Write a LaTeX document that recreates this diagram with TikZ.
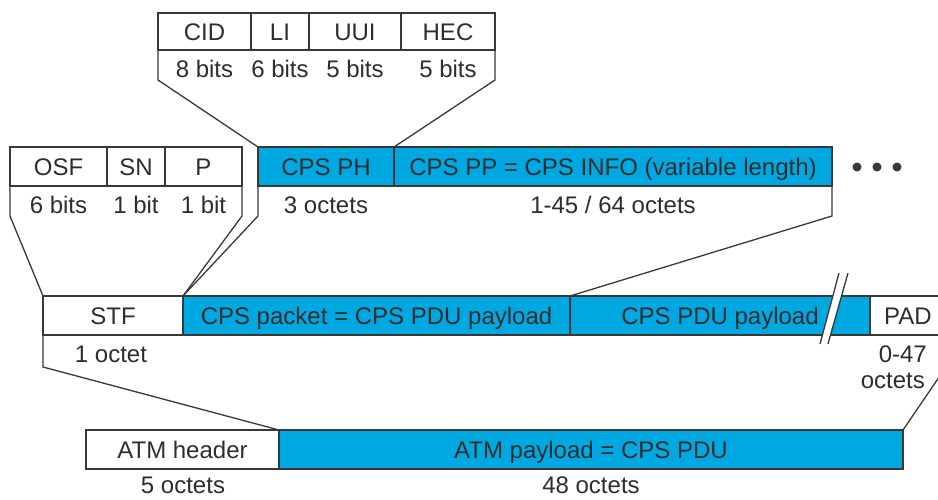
\documentclass[tikz,border=0pt]{standalone}
\usepackage{fontspec}
\setmainfont{Liberation Sans}
\definecolor{cpsblue}{RGB}{0,168,225}
\definecolor{ln}{RGB}{58,56,52}
\definecolor{tx}{RGB}{45,45,45}
\begin{document}
\begin{tikzpicture}[x=1pt,y=-1pt,
  cell/.style={draw=ln, line width=1.3pt, inner sep=0pt, outer sep=0pt,
    anchor=north west, minimum height=39pt, text=tx, text height=17.2pt, text depth=0pt,
    font=\fontsize{24}{28}\selectfont},
  bluecell/.style={cell, fill=cpsblue},
  lbl/.style={text=tx, inner sep=0pt, anchor=base, font=\fontsize{24}{28}\selectfont},
  conn/.style={draw=ln, line width=1.3pt, line join=miter},
  dotnode/.style={circle, fill=ln, inner sep=0pt, minimum size=9pt}]
\useasboundingbox (0,0) rectangle (938,499);
\clip (0,0) rectangle (938,499);
% row 1
\node[cell, minimum width=93pt, minimum height=37pt] (cid) at (158,13) {CID};
\node[cell, minimum width=58pt, minimum height=37pt] (li) at (251,13) {LI};
\node[cell, minimum width=92pt, minimum height=37pt] (uui) at (309,13) {UUI};
\node[cell, minimum width=94pt, minimum height=37pt] (hec) at (401,13) {HEC};
\node[lbl] (b1) at (204.5,77) {8 bits};
\node[lbl] (b2) at (280,77) {6 bits};
\node[lbl] (b3) at (355,77) {5 bits};
\node[lbl] (b4) at (448,77) {5 bits};
% row 2
\node[cell, minimum width=97pt] (osf) at (10,147) {OSF};
\node[cell, minimum width=58pt] (sn) at (107,147) {SN};
\node[cell, minimum width=77pt] (p) at (165,147) {P};
\node[bluecell, minimum width=136pt] (ph) at (258,147) {CPS PH};
\node[bluecell, minimum width=438pt] (pp) at (394,147) {CPS PP = CPS INFO (variable length)};
\node[lbl] (o1) at (58.5,213) {6 bits};
\node[lbl] (o2) at (136,213) {1 bit};
\node[lbl] (o3) at (203.5,213) {1 bit};
\node[lbl] (o4) at (326,213) {3 octets};
\node[lbl] (o5) at (613,213) {1-45 / 64 octets};
\node[dotnode] (d1) at (857,167) {};
\node[dotnode] (d2) at (877,167) {};
\node[dotnode] (d3) at (897,167) {};
% row 3
\node[cell, minimum width=140pt] (stf) at (43,296) {STF};
\node[bluecell, minimum width=387pt] (pkt) at (183,296) {CPS packet = CPS PDU payload};
\node[bluecell, minimum width=300pt] (pdu) at (570,296) {CPS PDU payload};
\node[cell, minimum width=76pt] (pad) at (870,296) {PAD};
\node[lbl] (s1) at (111,362) {1 octet};
\node[lbl, anchor=base east] (s2) at (927,362) {0-47};
\node[lbl, anchor=base east] (s3) at (925,388) {octets};
% break mark
\fill[white] (820,344) -- (839,273) -- (848,273) -- (828,344) -- cycle;
\draw[conn] (820,344) -- (839,273);
\draw[conn] (828,344) -- (848,273);
% row 4
\node[cell, minimum width=193pt] (atmh) at (86,430) {ATM header};
\node[bluecell, minimum width=624pt] (atmp) at (279,430) {ATM payload = CPS PDU};
\node[lbl] (a1) at (183,493) {5 octets};
\node[lbl] (a2) at (591,493) {48 octets};
% connectors
\draw[conn] (cid.south west) -- ++(0,30) -- (ph.north west);
\draw[conn] (hec.south east) -- ++(0,30) -- (pp.north west);
\draw[conn] (osf.south west) -- ++(0,30) -- (stf.north west);
\draw[conn] (p.south east) -- ++(0,30) -- (stf.north east);
\draw[conn] (ph.south west) -- ++(0,30) -- (pkt.north west);
\draw[conn] (pp.south east) -- ++(0,30) -- (pdu.north west);
\draw[conn] (stf.south west) -- ++(0,32) -- (atmh.north east);
\draw[conn] (pad.south east) -- ++(0,32) -- (atmp.north east);
\end{tikzpicture}
\end{document}
